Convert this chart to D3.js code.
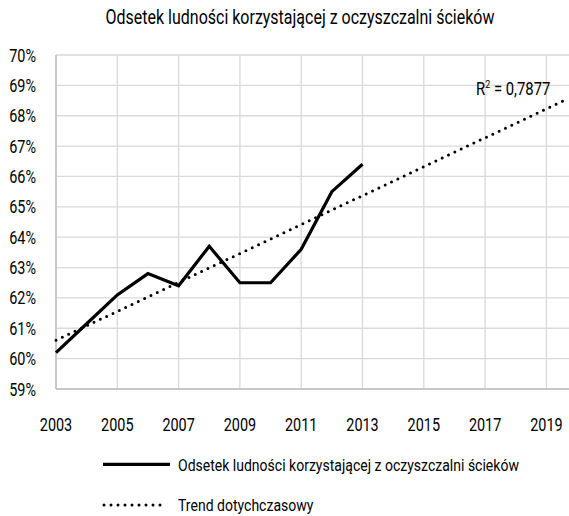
<!DOCTYPE html>
<html>
<head>
<meta charset="utf-8">
<script src="https://cdn.jsdelivr.net/npm/d3@7"></script>
<style>
  body { margin: 0; background: #fff; }
  text { font-family: Roboto, "DejaVu Sans Condensed", sans-serif; fill: #000; }
</style>
</head>
<body>
<div id="graph"></div>
<script>
var width = 569;
var height = 516;

// data
var years = [2003, 2004, 2005, 2006, 2007, 2008, 2009, 2010, 2011, 2012, 2013];
var values = [60.2, 61.15, 62.1, 62.8, 62.4, 63.7, 62.5, 62.5, 63.6, 65.5, 66.4];
var xTicks = [2003, 2005, 2007, 2009, 2011, 2013, 2015, 2017, 2019];
var yTicks = [59, 60, 61, 62, 63, 64, 65, 66, 67, 68, 69, 70];
var trendEnd = 2019.6;
var rSquared = "0,7877";
var title = "Odsetek ludności korzystającej z oczyszczalni ścieków";
var legendNames = ["Odsetek ludności korzystającej z oczyszczalni ścieków", "Trend dotychczasowy"];

var margin = {left: 56, top: 55, bottom: 389};

var svg = d3.select('#graph')
    .append('svg')
    .attr('width', width)
    .attr('height', height);

// the original font is a condensed one; squeeze Roboto to the same width
var probe = svg.append('text').style('font-size', '17px').text(legendNames[0]);
var k = 341 / probe.node().getComputedTextLength();
probe.remove();

function label(parent, x, y, str, size, anchor) {
    return parent.append('text')
        .attr('transform', 'translate(' + x + ',' + y + ') scale(' + k + ',1)')
        .attr('text-anchor', anchor || 'start')
        .style('font-size', size)
        .text(str);
}

var x = d3.scaleLinear().domain([2003, 2020]).range([margin.left, margin.left + 17 * 30.65]);
var y = d3.scaleLinear().domain([59, 70]).range([margin.bottom, margin.top]);

// horizontal grid
svg.append('g')
    .selectAll('line')
    .data(yTicks)
    .enter()
    .append('line')
    .attr('x1', x(2003))
    .attr('x2', width)
    .attr('y1', function(d) { return y(d); })
    .attr('y2', function(d) { return y(d); })
    .attr('stroke', '#d9d9d9')
    .attr('stroke-width', 1.3);

// vertical grid
svg.append('g')
    .selectAll('line')
    .data(xTicks)
    .enter()
    .append('line')
    .attr('x1', function(d) { return x(d); })
    .attr('x2', function(d) { return x(d); })
    .attr('y1', y(70))
    .attr('y2', y(59))
    .attr('stroke', '#d9d9d9')
    .attr('stroke-width', 1.3);

// axis lines
svg.append('line')
    .attr('x1', x(2003)).attr('x2', x(2003))
    .attr('y1', y(70)).attr('y2', y(59))
    .attr('stroke', '#bfbfbf').attr('stroke-width', 1.5);
svg.append('line')
    .attr('x1', x(2003)).attr('x2', width)
    .attr('y1', y(59)).attr('y2', y(59))
    .attr('stroke', '#bfbfbf').attr('stroke-width', 1.5);

// tick labels
var yLab = svg.append('g');
yTicks.forEach(function(d) {
    label(yLab, 36, y(d) + 6.5, d + '%', '17.5px', 'end');
});
var xLab = svg.append('g');
xTicks.forEach(function(d) {
    label(xLab, x(d), 431, d, '17.5px', 'middle');
});

// title
label(svg, 300, 24, title, '19.4px', 'middle');

// linear trend from the data (least squares)
var mx = d3.mean(years), my = d3.mean(values);
var sxy = d3.sum(years, function(d, i) { return (d - mx) * (values[i] - my); });
var sxx = d3.sum(years, function(d) { return (d - mx) * (d - mx); });
var slope = sxy / sxx;
var intercept = my - slope * mx;
var trendPts = [2003, trendEnd].map(function(t) { return [t, intercept + slope * t]; });

svg.append('path')
    .datum(trendPts)
    .attr('d', d3.line()
        .x(function(d) { return x(d[0]); })
        .y(function(d) { return y(d[1]); }))
    .attr('fill', 'none')
    .attr('stroke', '#000')
    .attr('stroke-width', 3)
    .attr('stroke-linecap', 'round')
    .attr('stroke-dasharray', '0,7');

// main series
svg.append('path')
    .datum(years)
    .attr('d', d3.line()
        .x(function(d) { return x(d); })
        .y(function(d, i) { return y(values[i]); }))
    .attr('fill', 'none')
    .attr('stroke', '#000')
    .attr('stroke-width', 3.2)
    .attr('stroke-linejoin', 'miter');

// R² label
var r2 = label(svg, 476, 94.5, '', '18px');
r2.append('tspan').text('R');
r2.append('tspan').attr('dy', -7).style('font-size', '11px').text('2');
r2.append('tspan').attr('dy', 7).text(' = ' + rSquared);

// legend
svg.append('line')
    .attr('x1', 103).attr('x2', 170)
    .attr('y1', 464.3).attr('y2', 464.3)
    .attr('stroke', '#000').attr('stroke-width', 3.2);
label(svg, 178, 470.5, legendNames[0], '17px');

svg.append('line')
    .attr('x1', 104).attr('x2', 165)
    .attr('y1', 505).attr('y2', 505)
    .attr('stroke', '#000').attr('stroke-width', 3)
    .attr('stroke-linecap', 'round')
    .attr('stroke-dasharray', '0,7');
label(svg, 178, 511, legendNames[1], '17px');
</script>
</body>
</html>
